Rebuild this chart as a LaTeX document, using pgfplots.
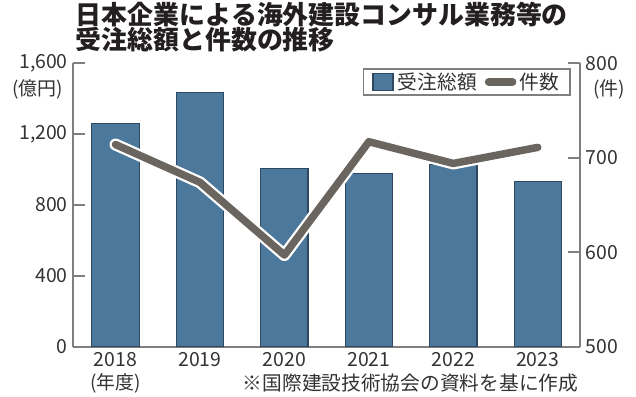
\documentclass[border=0pt]{standalone}
\usepackage{fontspec}
\setmainfont{Noto Sans CJK JP}[Kerning=Off]
\usepackage{pgfplots}
\pgfplotsset{compat=1.18}
\definecolor{barfill}{HTML}{4B789B}
\definecolor{baredge}{HTML}{2E4862}
\definecolor{linegray}{HTML}{6B6560}
\definecolor{axisgray}{HTML}{7F7F7F}
\definecolor{txt}{HTML}{333333}
\definecolor{ttl}{HTML}{231F20}
\begin{document}
\begin{tikzpicture}[x=1bp,y=1bp]
\useasboundingbox (-73.3,-49.3) rectangle (562.7,346.7);
\begin{axis}[
  at={(0,0)}, anchor=south west,
  scale only axis, width=506.7bp, height=283.4bp,
  xmin=-0.5, xmax=5.5, ymin=0, ymax=1600,
  axis x line*=bottom, axis y line*=left,
  axis line style={axisgray, line width=1.8bp, -},
  xtick={0,...,5}, xticklabels={2018,2019,2020,2021,2022,2023},
  x tick style={draw=none},
  ytick={0,400,800,1200,1600},
  y tick style={axisgray, line width=1.8bp},
  tick align=inside, major tick length=12bp,
  /pgf/number format/assume math mode=true,
  /pgf/number format/1000 sep={,},
  ticklabel style={font=\fontsize{19.5}{19.5}\selectfont, text=txt},
  yticklabel style={xshift=-2bp},
  xticklabel style={yshift=-2bp},
]
\addplot[ybar, bar width=0.56, fill=barfill, draw=baredge, line width=1.2bp]
  coordinates {(0,1260) (1,1437) (2,1008) (3,980) (4,1029) (5,933)};
\end{axis}
\begin{axis}[
  at={(0,0)}, anchor=south west,
  scale only axis, width=506.7bp, height=283.4bp,
  xmin=-0.5, xmax=5.5, ymin=500, ymax=800,
  axis x line=none, axis y line*=right,
  axis line style={axisgray, line width=1.8bp, -},
  ytick={500,600,700,800},
  y tick style={axisgray, line width=1.8bp},
  tick align=inside, major tick length=12bp,
  /pgf/number format/assume math mode=true,
  ticklabel style={font=\fontsize{19.5}{19.5}\selectfont, text=txt},
  yticklabel style={xshift=2bp},
  legend style={at={(rel axis cs:0.9822,0.9834)}, anchor=north east,
    draw=axisgray, line width=1.8bp, text=txt,
    font=\fontsize{19.8}{19.8}\selectfont,
    inner xsep=9bp, inner ysep=2bp,
    /tikz/every even column/.append style={column sep=6bp}},
  legend columns=2,
]
\addlegendimage{legend image code/.code={\draw[fill=barfill, draw=baredge, line width=1.2bp] (0bp,-8.5bp) rectangle (20bp,8.5bp); \path[draw=none, fill=none] (0bp,0bp) -- (23bp,0bp);}}
\addlegendentry{受注総額}
\addplot[white, line width=12bp, line join=round, line cap=round, forget plot]
  coordinates {(0,714) (1,674) (2,597) (3,717) (4,694) (5,711)};
\addplot[linegray, line width=7.5bp, line join=round, line cap=round,
  legend image code/.code={\draw[linegray, line width=7.5bp, line cap=round] (3bp,0bp) -- (27bp,0bp); \path[draw=none, fill=none] (0bp,0bp) -- (32bp,0bp);}]
  coordinates {(0,714) (1,674) (2,597) (3,717) (4,694) (5,711)};
\addlegendentry{件数}
\end{axis}
\node[anchor=west, inner sep=0pt, text=ttl, font=\fontsize{26}{26}\selectfont\bfseries] at (2.2,331.7) {日本企業による海外建設コンサル業務等の};
\node[anchor=west, inner sep=0pt, text=ttl, font=\fontsize{26}{26}\selectfont\bfseries] at (2.2,306.7) {受注総額と件数の推移};
\node[anchor=east, text=txt, font=\fontsize{19}{19}\selectfont] at (-6.6,257.7) {(億円)};
\node[anchor=west, text=txt, font=\fontsize{19}{19}\selectfont] at (516.7,257.7) {(件)};
\node[anchor=center, text=txt, font=\fontsize{19}{19}\selectfont] at (42.2,-36.3) {(年度)};
\node[anchor=east, text=txt, font=\fontsize{19.8}{19.8}\selectfont] at (508.4,-36.3) {※国際建設技術協会の資料を基に作成};
\end{tikzpicture}
\end{document}
